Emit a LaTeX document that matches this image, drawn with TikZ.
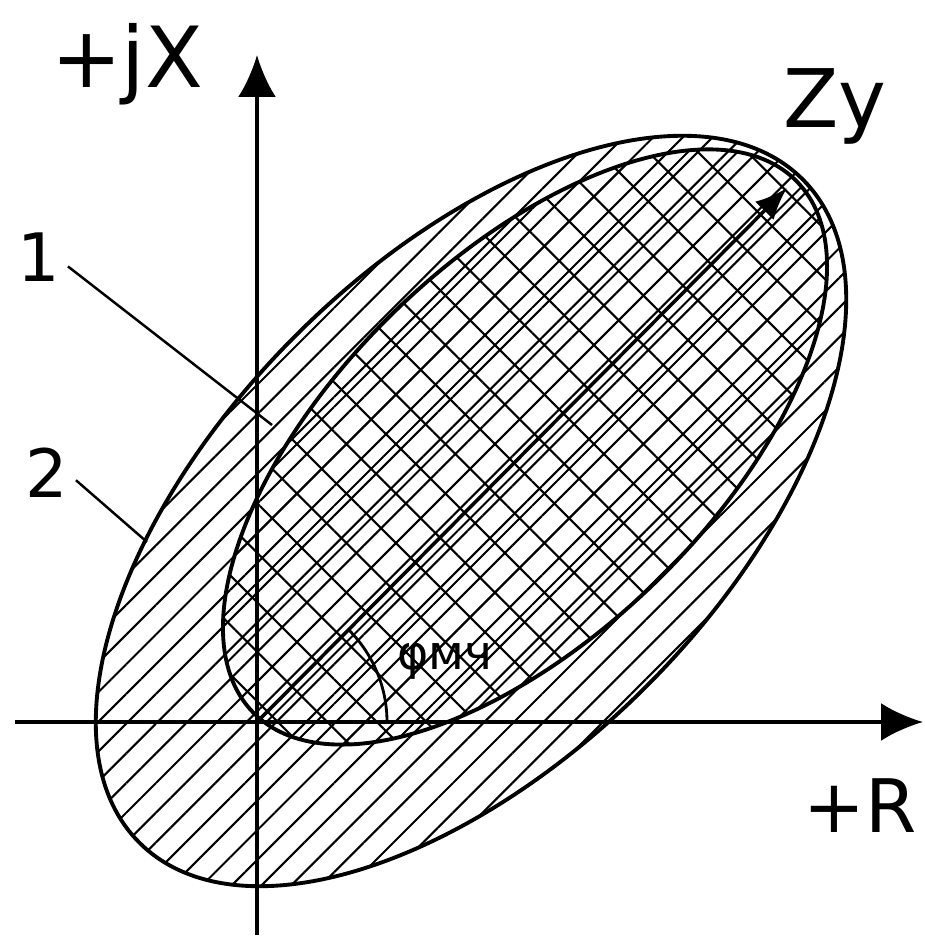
\documentclass[tikz,border=0pt]{standalone}
\usepackage{fontspec}
\setmainfont{DejaVu Sans}
\usetikzlibrary{arrows.meta,patterns.meta}

\begin{document}
\begin{tikzpicture}[
    axis/.style={line width=1.1pt, -{Latex[length=0.42cm,width=0.38cm]}},
    vec/.style={line width=1pt, -{Latex[length=0.32cm,width=0.26cm]}},
    zone/.style={line width=1.1pt},
    leader/.style={line width=0.7pt},
    lbl/.style={anchor=base, inner sep=0pt}
]

% Marco de la figura
\useasboundingbox (-2.57,-2.17) rectangle (6.67,7.22);

% 1. Zona 2: elipse exterior con rayado simple
\draw[zone, pattern={Lines[angle=45,distance=0.21cm,line width=0.6pt]},
      rotate around={45:(2.14,2.11)}] (2.14,2.11) ellipse [x radius=4.69, y radius=2.48];

% 2. Zona 1: elipse interior con rayado cruzado
\draw[zone, pattern={Hatch[angle=45,distance=0.35cm,line width=0.6pt]},
      rotate around={44.3:(2.68,2.75)}] (2.68,2.75) ellipse [x radius=3.80, y radius=1.88];

% 3. Ejes
\coordinate (O) at (0,0);
\coordinate (xmin) at (-2.42,0);
\coordinate (xmax) at (6.66,0);
\coordinate (ymin) at (0,-2.13);
\coordinate (ymax) at (0,6.67);
\draw[axis] (xmin) -- (xmax);
\draw[axis] (ymin) -- (ymax);

\node[lbl, font=\fontsize{24}{28}\selectfont] (ejeX) at (-1.30,6.34) {+jX};
\node[lbl, font=\fontsize{21}{25}\selectfont] (ejeR) at (6.03,-1.11) {+R};

% 4. Vector Zy y angulo
\coordinate (zy) at (5.30,5.34);
\draw[vec] (O) -- (zy);
\node[lbl, font=\fontsize{23}{27}\selectfont] (zlbl) at (5.78,5.94) {Zy};

\draw[line width=0.8pt] (1.3,0) arc[start angle=0, end angle=45, radius=1.3];
\node[lbl, font=\fontsize{13.5}{16}\selectfont] (phi) at (1.88,0.52) {φмч};

% 5. Referencias 1 y 2
\node[lbl, font=\fontsize{19}{23}\selectfont] (ref1) at (-2.18,4.40) {1};
\node[lbl, font=\fontsize{19}{23}\selectfont] (ref2) at (-2.10,2.24) {2};
\coordinate (p1) at (0.15,2.97);
\coordinate (p2) at (-1.10,1.80);
\draw[leader] ([xshift=2pt,yshift=-2.5pt]ref1.east) -- (p1);
\draw[leader] ([xshift=2pt,yshift=-2pt]ref2.east) -- (p2);

\end{tikzpicture}
\end{document}
